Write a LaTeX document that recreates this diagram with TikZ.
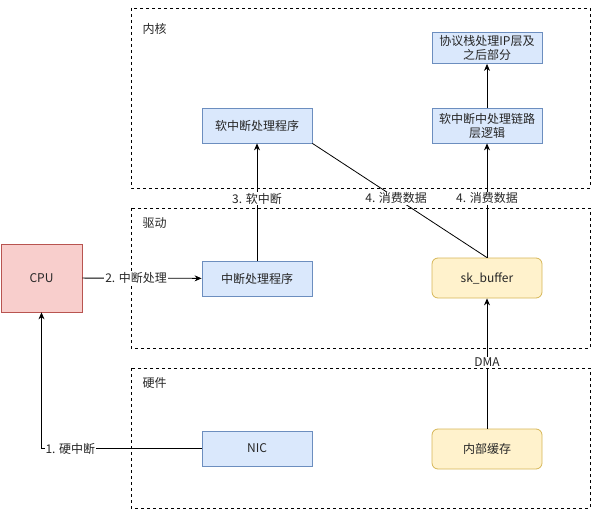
\documentclass[tikz,border=0pt]{standalone}
\usepackage{fontspec}
\setmainfont{Noto Sans CJK SC}
\usetikzlibrary{arrows.meta}

\definecolor{bluefill}{HTML}{DAE8FC}
\definecolor{blueline}{HTML}{6C8EBF}
\definecolor{yellowfill}{HTML}{FFF2CC}
\definecolor{yellowline}{HTML}{D6B656}
\definecolor{redfill}{HTML}{F8CECC}
\definecolor{redline}{HTML}{B85450}

\begin{document}
\begin{tikzpicture}[x=1pt, y=-1pt, font=\fontsize{12}{14}\selectfont, text=black!85,
		frame/.style = {draw, dashed, dash pattern=on 3pt off 3pt, line width=0.8pt},
		bluebox/.style = {draw=blueline, fill=bluefill, line width=0.8pt, minimum width=110pt, minimum height=35pt, align=center, inner sep=1pt},
		yellowbox/.style = {draw=yellowline, fill=yellowfill, line width=0.8pt, rounded corners=6pt, minimum width=110pt, minimum height=40pt, align=center},
		flow/.style = {line width=0.8pt, -{Stealth[length=7pt, width=6pt]}},
		lbl/.style = {fill=white, inner sep=1pt}]
		\useasboundingbox (0,0) rectangle (593,510);
		% layers
		\draw[frame] (131,8)   rectangle (590,188);
		\draw[frame] (131,208) rectangle (590,348);
		\draw[frame] (131,368) rectangle (590,508);
		\node[anchor=west] (kernel) at (139,29)  {内核};
		\node[anchor=west] (driver) at (139,223) {驱动};
		\node[anchor=west] (hw)     at (139,383) {硬件};
		% boxes
		\node[draw=redline, fill=redfill, line width=0.8pt, minimum width=81pt, minimum height=68pt] (cpu) at (41.5,278) {CPU};
		\node[bluebox] (irq)     at (257,278.5) {中断处理程序};
		\node[bluebox] (softirq) at (257,125.5) {软中断处理程序};
		\node[bluebox] (link)    at (487,125.5) {软中断中处理链路\\层逻辑};
		\node[bluebox, minimum height=31pt] (proto) at (487,48) {协议栈处理IP层及\\之后部分};
		\node[yellowbox] (skb)   at (487,278) {sk\_buffer};
		\node[bluebox] (nic)     at (257,448.5) {NIC};
		\node[yellowbox] (cache) at (487,449) {内部缓存};
		% connectors
		\draw[flow] (nic.west) -| node[lbl, pos=0.41] {1. 硬中断} (cpu.south);
		\draw[flow] (cpu) -- node[lbl, pos=0.45] {2. 中断处理} (irq);
		\draw[flow] (irq) -- node[lbl, pos=0.53] {3. 软中断} (softirq);
		\draw[line width=0.8pt] (softirq.south east) -- node[lbl, pos=0.48] {4. 消费数据} (skb.north);
		\draw[flow] (skb) -- node[lbl, pos=0.52] {4. 消费数据} (link);
		\draw[flow] (link) -- (proto);
		\draw[flow] (cache) -- node[lbl, pos=0.51] {DMA} (skb);
		\end{tikzpicture}
\end{document}
